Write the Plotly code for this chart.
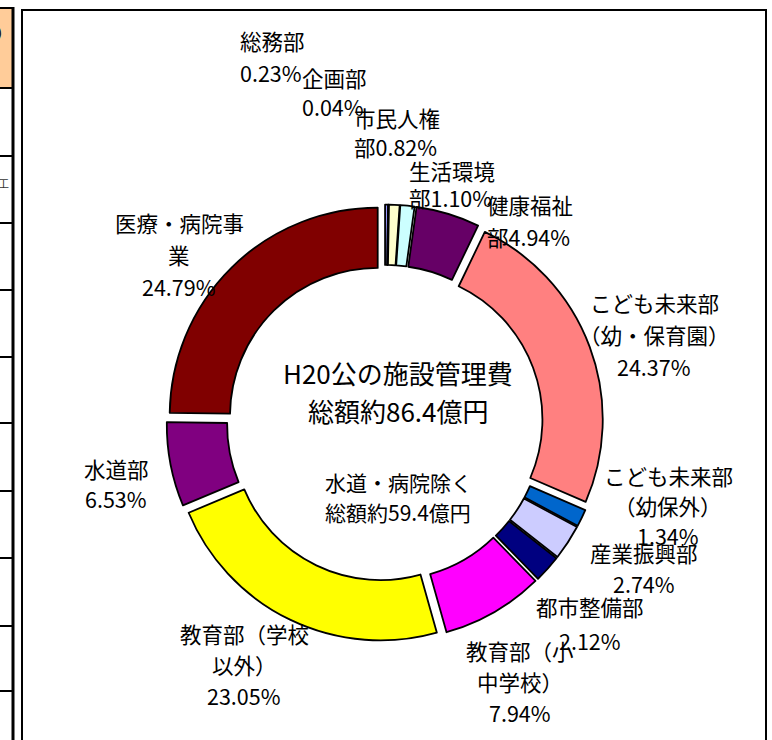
import plotly.graph_objects as go

W, H = 772, 740

# ---- data ----
departments = ["総務部", "企画部", "市民人権部", "生活環境部", "健康福祉部",
               "こども未来部（幼・保育園）", "こども未来部（幼保外）", "産業振興部",
               "都市整備部", "教育部（小中学校）", "教育部（学校以外）", "水道部",
               "医療・病院事業"]
shares = [0.23, 0.04, 0.82, 1.10, 4.94, 24.37, 1.34, 2.74, 2.12, 7.94, 23.05, 6.53, 24.79]
label_wrap = [["総務部"], ["企画部"], ["市民人権", "部"], ["生活環境", "部"], ["健康福祉", "部"],
              ["こども未来部", "（幼・保育園）"], ["こども未来部", "（幼保外）"], ["産業振興部"],
              ["都市整備部"], ["教育部（小", "中学校）"], ["教育部（学校", "以外）"], ["水道部"],
              ["医療・病院事", "業"]]
value_inline = [False, False, True, True, True, False, False, False, False, False, False, False, False]
colors = ["#9999FF", "#993366", "#FFFFCC", "#CCFFFF", "#660066", "#FF8080", "#0066CC",
          "#CCCCFF", "#000080", "#FF00FF", "#FFFF00", "#800080", "#800000"]
center_title = ["H20公の施設管理費", "総額約86.4億円"]
center_sub = ["水道・病院除く", "総額約59.4億円"]

# ---- layout helpers (pixel -> paper) ----
def px(x):
    return x / W

def py(y):
    return 1 - y / H

# label placement: x, first-line y, line pitch, anchor
label_pos = [(238, 40, 32, "left"), (300, 77, 30, "left"), (352, 117, 30, "left"),
             (407, 170, 28, "left"), (485, 205, 32, "left"), (654, 303, 32, "center"),
             (668, 475, 30, "center"), (644, 552, 31, "center"), (590, 606, 34, "center"),
             (520, 650, 31, "center"), (244, 633, 31, "center"), (116, 468, 30, "center"),
             (179, 223, 32, "center")]

FONT = "Noto Sans CJK JP, Noto Sans CJK SC, sans-serif"

cx, cy, r, pull, hole = 385, 423, 208, 0.05, 0.71
half = r * (1 + pull)

fig = go.Figure(go.Pie(
    labels=departments, values=shares, sort=False, direction="clockwise", rotation=0,
    hole=hole, pull=[pull] * len(shares), textinfo="none", hoverinfo="label+percent",
    marker=dict(colors=colors, line=dict(color="black", width=1.8)),
    domain=dict(x=[px(cx - half), px(cx + half)], y=[py(cy + half), py(cy - half)]),
    showlegend=False,
))

annotations = []
for lines, v, inline, (x, y, pitch, anchor) in zip(label_wrap, shares, value_inline, label_pos):
    vt = f"{v:.2f}%"
    if inline:
        out = lines[:-1] + [lines[-1] + vt]
    else:
        out = lines + [vt]
    for i, t in enumerate(out):
        annotations.append(dict(text=t, x=px(x), y=py(y + i * pitch), xref="paper", yref="paper",
                                xanchor=anchor, yanchor="middle", showarrow=False,
                                font=dict(family=FONT, size=21.5, color="black")))

for i, t in enumerate(center_title):
    annotations.append(dict(text=t, x=px(398), y=py(373 + i * 37), xref="paper", yref="paper",
                            xanchor="center", yanchor="middle", showarrow=False,
                            font=dict(family=FONT, size=26, color="black")))
for i, t in enumerate(center_sub):
    annotations.append(dict(text=t, x=px(398), y=py(482 + i * 30), xref="paper", yref="paper",
                            xanchor="center", yanchor="middle", showarrow=False,
                            font=dict(family=FONT, size=21, color="black")))

# fragments of neighbouring table text
annotations.append(dict(text="）", x=px(-6), y=py(32), xref="paper", yref="paper", xanchor="left",
                        yanchor="middle", showarrow=False, font=dict(family=FONT, size=16, color="black")))
annotations.append(dict(text="工", x=px(-4), y=py(183), xref="paper", yref="paper", xanchor="left",
                        yanchor="middle", showarrow=False, font=dict(family=FONT, size=11, color="#333")))

shapes = []
# left table fragment
shapes.append(dict(type="rect", xref="paper", yref="paper", x0=px(-5), x1=px(13), y0=py(88), y1=py(8),
                   fillcolor="#FFCC99", line=dict(width=0), layer="below"))
shapes.append(dict(type="line", xref="paper", yref="paper", x0=px(13), x1=px(13), y0=py(7), y1=py(745),
                   line=dict(color="black", width=3)))
shapes.append(dict(type="line", xref="paper", yref="paper", x0=px(-5), x1=px(13), y0=py(8), y1=py(8),
                   line=dict(color="black", width=2)))
for yy in [88, 156, 223, 290, 357, 423, 491, 558, 626, 691]:
    shapes.append(dict(type="line", xref="paper", yref="paper", x0=px(-5), x1=px(13), y0=py(yy), y1=py(yy),
                       line=dict(color="black", width=2)))
# chart frame
shapes.append(dict(type="rect", xref="paper", yref="paper", x0=px(22), x1=px(766), y0=py(750), y1=py(10),
                   line=dict(color="black", width=2), fillcolor="rgba(0,0,0,0)"))

fig.update_layout(
    width=W, height=H, margin=dict(l=0, r=0, t=0, b=0),
    paper_bgcolor="white", plot_bgcolor="white",
    annotations=annotations, shapes=shapes,
)

fig.write_html("out.html", config={"displayModeBar": False},
               post_script="document.body.style.margin='0';document.body.style.overflow='hidden';")
